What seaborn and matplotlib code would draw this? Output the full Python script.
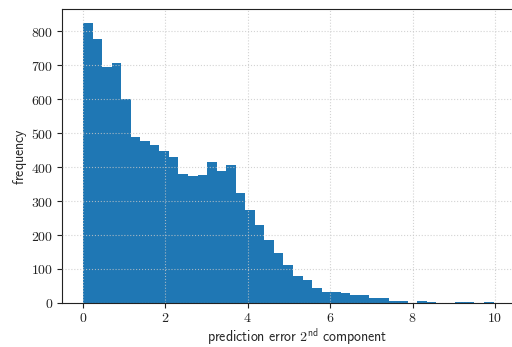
import numpy as np
import pandas as pd
import matplotlib
matplotlib.use("Agg")
import matplotlib.pyplot as plt
import seaborn as sns
from matplotlib.ticker import FuncFormatter

# Histogram counts of the prediction error (2nd component), 44 equal bins on [0, 10.2]
bin_lo = 0.0
bin_hi = 10.2
counts = [825, 777, 694, 706, 601, 489, 478, 464, 449, 430,
          381, 375, 377, 416, 389, 406, 324, 274, 229, 186,
          147, 112, 79, 67, 43, 32, 31, 29, 23, 22,
          16, 15, 7, 5, 0, 6, 4, 1, 1, 3,
          3, 1, 3, 1]
x_ticks = [0, 2, 4, 6, 8, 10]
y_ticks = [0, 100, 200, 300, 400, 500, 600, 700, 800]

edges = np.linspace(bin_lo, bin_hi, len(counts) + 1)
centers = 0.5 * (edges[:-1] + edges[1:])
df = pd.DataFrame({"error": centers, "count": counts})

sns.set_theme(style="ticks")
plt.rcParams["mathtext.fontset"] = "cm"
plt.rcParams["font.family"] = ["DejaVu Sans"]

fig = plt.figure(figsize=(5.12, 3.47), dpi=100)
ax = fig.add_axes([0.121, 0.127, 0.918, 0.847])

sns.histplot(data=df, x="error", weights="count", bins=list(edges), ax=ax,
             color="#1f77b4", alpha=1.0, edgecolor="none", linewidth=0)

ax.set_xlim(-0.51, 10.90)
ax.set_ylim(0, 866)
ax.set_xticks(x_ticks)
ax.set_yticks(y_ticks)
ax.xaxis.set_major_formatter(FuncFormatter(lambda v, p: f"${v:g}$"))
ax.yaxis.set_major_formatter(FuncFormatter(lambda v, p: f"${v:g}$"))
ax.tick_params(axis="both", direction="out", length=3.5, width=0.8,
               labelsize=10, colors="#222222", pad=2.5)

ax.set_axisbelow(False)
ax.grid(True, linestyle=":", linewidth=0.8, color="#c8c8c8", alpha=0.8)

for side in ["left", "bottom", "top"]:
    ax.spines[side].set_visible(True)
    ax.spines[side].set_linewidth(0.8)
    ax.spines[side].set_color("#222222")
ax.spines["right"].set_visible(False)

ax.set_xlabel(r"$\mathsf{prediction\ error\ 2^{nd}\ component}$", fontsize=10, labelpad=1)
ax.set_ylabel(r"$\mathsf{frequency}$", fontsize=10, labelpad=2)

fig.savefig("out.png", dpi=100)
